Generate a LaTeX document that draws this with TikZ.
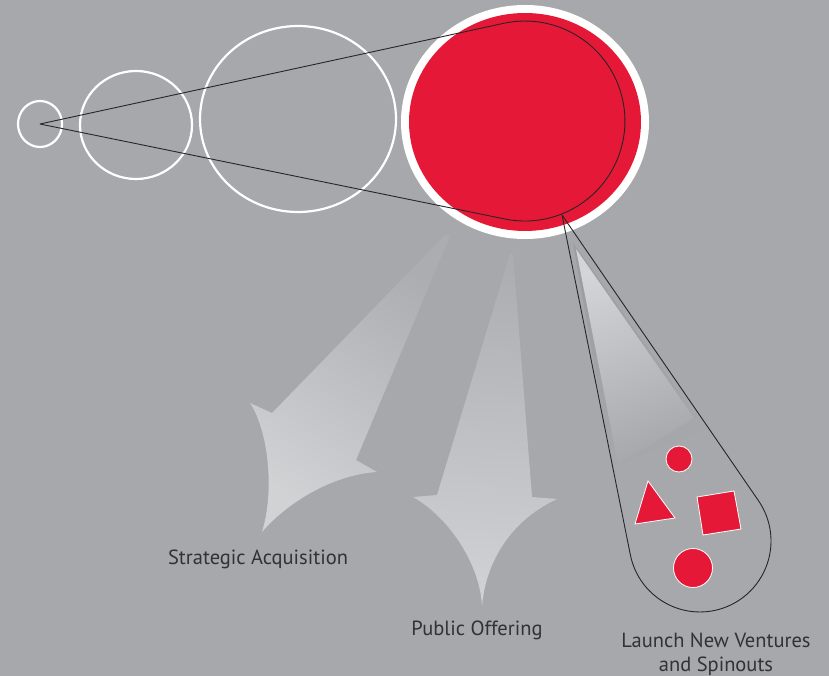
\documentclass[tikz,border=0pt]{standalone}
\usepackage{fontspec}
\setmainfont{PT Sans}
\definecolor{bggray}{RGB}{167,168,172}
\definecolor{arrowgray}{RGB}{209,210,212}
\definecolor{arrowtop}{RGB}{172,173,177}
\definecolor{beamlight}{RGB}{212,213,215}
\definecolor{beamshadow}{RGB}{156,157,161}
\definecolor{brandred}{RGB}{229,25,55}
\definecolor{labelgray}{RGB}{50,50,54}
\begin{document}
\begin{tikzpicture}[x=1pt, y=-1pt]
    % Define styles
    \tikzset{
        ring/.style={draw=white, line width=2.2pt},
        outline/.style={draw=black!85, line width=0.9pt, line join=round},
        exitarrow/.style={shade, top color=arrowtop, middle color=arrowgray, bottom color=arrowgray},
        venture/.style={fill=brandred, draw=white, line width=0.8pt},
        label/.style={font=\fontsize{20.5}{24}\selectfont, text=labelgray, align=center}
    }

    % Background
    \useasboundingbox (0,0) rectangle (829,676);
    \fill[bggray] (0,0) rectangle (829,676);

    % Draw growing company circles
    \foreach \cx/\cy/\rx/\ry in {40/124/22/23, 136/125/56/54, 298/119/98/93} {
        \draw[ring] (\cx,\cy) ellipse [x radius=\rx, y radius=\ry];
    }

    % Draw mature company
    \fill[white] (525,122) ellipse [x radius=124, y radius=117];
    \fill[brandred] (525,122) ellipse [x radius=116, y radius=109];

    % Draw growth cone
    \coordinate (seed) at (40,124);
    \coordinate (conetop) at (503.8,23.3);
    \draw[outline] (seed) -- (conetop)
        arc [start angle=-102.2, end angle=101.5, radius=100] -- cycle;

    % Draw exit arrows
    \path[exitarrow, shading angle=-35] (446,234) -- (272,413) -- (250,403)
        .. controls (268,430) and (275,490) .. (262,532)
        .. controls (285,505) and (330,475) .. (377,472)
        -- (356,460) -- (450,236) -- cycle;
    \path[exitarrow, shading angle=-4] (510,254) -- (437,495) -- (413,497)
        .. controls (450,518) and (480,565) .. (482,606)
        .. controls (486,560) and (512,520) .. (557,499)
        -- (532,497) -- (513,254) -- cycle;

    % Draw spinout beam
    \shade[top color=beamshadow, middle color=beamshadow, bottom color=bggray, shading angle=20]
        (573,243) -- (613,472) -- (706,430) -- cycle;
    \shade[top color=beamlight, middle color=beamlight, bottom color=bggray, shading angle=20]
        (576,249) -- (618,464) -- (694,418) -- cycle;

    % Draw spinout drop
    \coordinate (spinroot) at (562,215);
    \coordinate (dropleft) at (630.4,555.0);
    \draw[outline] (spinroot) -- (dropleft)
        arc [start angle=168.6, end angle=-34.5, radius=71] -- cycle;

    % Draw new ventures
    \draw[venture] (679,459) circle [radius=13];
    \draw[venture] (648,481) -- (635,524) -- (675,518) -- cycle;
    \draw[venture] (697,497) -- (734,491) -- (741,529) -- (703,535) -- cycle;
    \draw[venture] (693,568) circle [radius=19.5];

    % Add labels
    \node[label] (acquisition) at (258,559) {Strategic Acquisition};
    \node[label] (offering) at (477,630) {Public Offering};
    \node[label] (spinouts) at (716,654) {Launch New Ventures\\and Spinouts};
\end{tikzpicture}
\end{document}
